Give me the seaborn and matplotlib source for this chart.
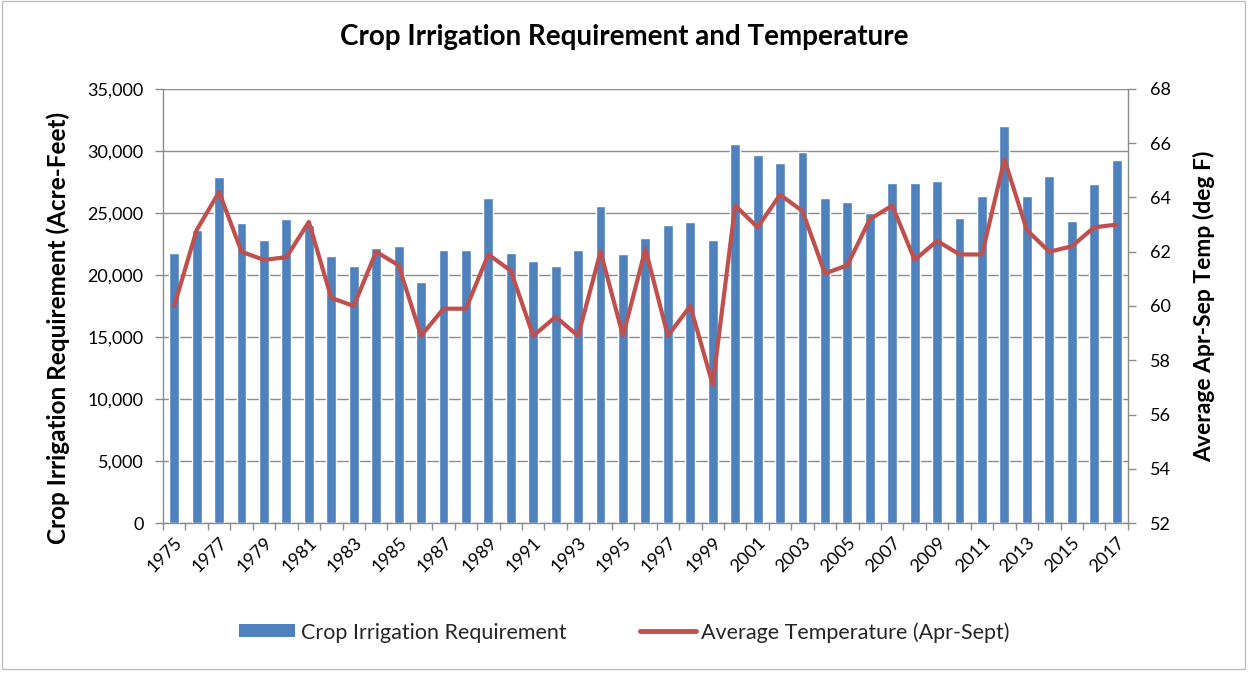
import numpy as np
import pandas as pd
import matplotlib
matplotlib.use("Agg")
import matplotlib.pyplot as plt
import seaborn as sns
from matplotlib.patches import Rectangle, Patch
from matplotlib.lines import Line2D
from matplotlib.ticker import FuncFormatter, MultipleLocator

# Yearly data
years = list(range(1975, 2018))
irrigation = [21800, 23600, 27900, 24200, 22800, 24500, 24000, 21500, 20750, 22200,
              22300, 19400, 22000, 22000, 26200, 21800, 21100, 20750, 22000, 25600,
              21700, 22950, 24000, 24250, 22800, 30600, 29650, 29000, 29900, 26200,
              25900, 25000, 27450, 27450, 27600, 24600, 26400, 32000, 26400, 27950,
              24350, 27300, 29250]
temperature = [60.0, 62.8, 64.2, 62.0, 61.7, 61.8, 63.1, 60.3, 60.0, 62.0,
               61.5, 58.9, 59.9, 59.9, 61.9, 61.3, 58.9, 59.6, 58.9, 62.0,
               58.9, 62.1, 58.9, 60.0, 57.1, 63.7, 62.9, 64.1, 63.5, 61.2,
               61.5, 63.2, 63.7, 61.7, 62.4, 61.9, 61.9, 65.4, 62.8, 62.0,
               62.2, 62.9, 63.0]

title = "Crop Irrigation Requirement and Temperature"
left_label = "Crop Irrigation Requirement (Acre-Feet)"
right_label = "Average Apr-Sep Temp (deg F)"
bar_name = "Crop Irrigation Requirement"
line_name = "Average Temperature (Apr-Sept)"

bar_color = "#4F81BD"
line_color = "#C0504D"
grid_color = "#8C8C8C"
text_color = "#000000"

sns.set_theme(style="white")
plt.rcParams["font.family"] = ["Lato", "DejaVu Sans"]

df = pd.DataFrame({"year": [str(y) for y in years],
                   "irrigation": irrigation,
                   "temperature": temperature})

fig = plt.figure(figsize=(12.49, 6.74), dpi=100)
ax = fig.add_axes([0.1305, 0.224, 0.7725, 0.644])

sns.barplot(data=df, x="year", y="irrigation", color=bar_color,
            saturation=1, width=0.44, ax=ax, zorder=3)
ax.set_xlim(-0.5, len(years) - 0.5)
ax.set_ylim(0, 35000)
ax.yaxis.set_major_locator(MultipleLocator(5000))
ax.yaxis.set_major_formatter(FuncFormatter(lambda v, p: f"{int(v):,}"))
ax.grid(axis="y", color=grid_color, linewidth=1.0, zorder=0)
ax.set_axisbelow(True)

# x ticks: labels every other year, tick marks between categories
positions = np.arange(len(years))
ax.set_xticks(positions[::2])
ax.set_xticklabels(df["year"][::2], rotation=45, ha="right",
                   rotation_mode="anchor", fontsize=13, color=text_color)
ax.set_xticks(np.arange(-0.5, len(years), 1.0), minor=True)
ax.tick_params(axis="x", which="major", length=0, pad=8)
ax.tick_params(axis="x", which="minor", length=5, width=1, color=grid_color,
               direction="out", bottom=True)
ax.tick_params(axis="y", which="major", length=6, width=1, color=grid_color,
               direction="out", left=True, labelsize=13, labelcolor=text_color, pad=8)

for side in ["top", "right"]:
    ax.spines[side].set_visible(False)
for side in ["left", "bottom"]:
    ax.spines[side].set_color(grid_color)
    ax.spines[side].set_linewidth(1.0)

ax.set_xlabel("")
ax.set_ylabel(left_label, fontsize=17.5, fontweight="bold", color=text_color, labelpad=10)
ax.yaxis.set_label_coords(-0.096, 0.45)

ax2 = ax.twinx()
sns.lineplot(x=positions, y=temperature, color=line_color, linewidth=3.0,
             ax=ax2, zorder=4)
ax2.set_ylim(52, 68)
ax2.yaxis.set_major_locator(MultipleLocator(2))
ax2.tick_params(axis="y", which="major", length=6, width=1, color=grid_color,
                direction="out", right=True, labelsize=13, labelcolor=text_color, pad=10)
for side in ["top", "left", "bottom"]:
    ax2.spines[side].set_visible(False)
ax2.spines["right"].set_color(grid_color)
ax2.spines["right"].set_linewidth(1.0)
ax2.set_ylabel(right_label, fontsize=16.5, fontweight="bold", color=text_color, labelpad=16)

fig.suptitle(title, x=0.5, y=0.965, fontsize=20, fontweight="bold", color=text_color)

handles = [Patch(facecolor=bar_color, edgecolor="none"),
           Line2D([0], [0], color=line_color, linewidth=3.5)]
fig.legend(handles, [bar_name, line_name], loc="center", bbox_to_anchor=(0.5, 0.062),
           ncol=2, frameon=False, fontsize=15.5, handlelength=2.6, handleheight=0.55,
           handletextpad=0.25, columnspacing=3.4)

# light outer frame around the chart
fig.patches.append(Rectangle((0.002, 0.008), 0.995, 0.99, transform=fig.transFigure,
                             fill=False, edgecolor="#BFBFBF", linewidth=1.0))

fig.savefig("out.png", dpi=100, facecolor="white")
